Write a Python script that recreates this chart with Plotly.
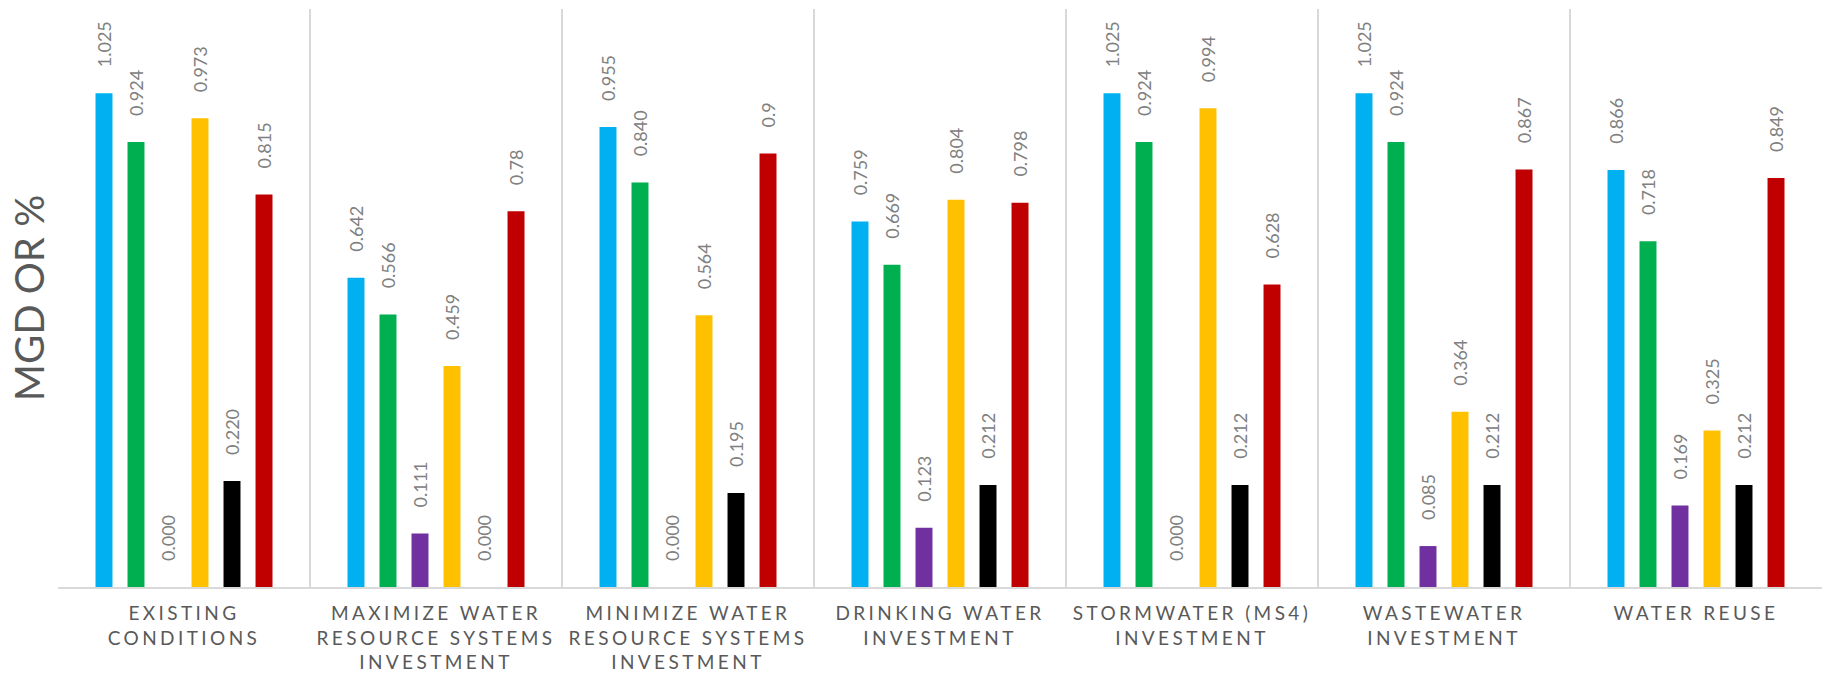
import plotly.graph_objects as go

# Scenario categories along the x axis
categories = [
    "EXISTING<br>CONDITIONS",
    "MAXIMIZE WATER<br>RESOURCE SYSTEMS<br>INVESTMENT",
    "MINIMIZE WATER<br>RESOURCE SYSTEMS<br>INVESTMENT",
    "DRINKING WATER<br>INVESTMENT",
    "STORMWATER (MS4)<br>INVESTMENT",
    "WASTEWATER<br>INVESTMENT",
    "WATER REUSE",
]

# Values per series, kept as the strings printed above each bar
blue_vals = ["1.025", "0.642", "0.955", "0.759", "1.025", "1.025", "0.866"]
green_vals = ["0.924", "0.566", "0.840", "0.669", "0.924", "0.924", "0.718"]
purple_vals = ["0.000", "0.111", "0.000", "0.123", "0.000", "0.085", "0.169"]
yellow_vals = ["0.973", "0.459", "0.564", "0.804", "0.994", "0.364", "0.325"]
black_vals = ["0.220", "0.000", "0.195", "0.212", "0.212", "0.212", "0.212"]
red_vals = ["0.815", "0.78", "0.9", "0.798", "0.628", "0.867", "0.849"]

series = [
    ("Blue", blue_vals, "#00B0F0"),
    ("Green", green_vals, "#00B050"),
    ("Purple", purple_vals, "#7030A0"),
    ("Yellow", yellow_vals, "#FFC000"),
    ("Black", black_vals, "#000000"),
    ("Red", red_vals, "#C00000"),
]

PAD = "\u00a0" * 5  # gap between the bar top and its rotated label

fig = go.Figure()
for name, vals, color in series:
    fig.add_trace(go.Bar(
        name=name,
        x=categories,
        y=[float(v) for v in vals],
        text=[PAD + v for v in vals],
        textposition="outside",
        textangle=-90,
        constraintext="none",
        textfont=dict(family="Lato", size=18, color="#808080"),
        marker=dict(color=color, line=dict(width=0)),
        cliponaxis=False,
    ))

fig.update_layout(
    width=1827,
    height=678,
    barmode="group",
    bargap=0.238,
    bargroupgap=0.47,
    showlegend=False,
    plot_bgcolor="white",
    paper_bgcolor="white",
    margin=dict(l=58, r=5, t=9, b=86),
    font=dict(family="Lato", color="#595959"),
)

fig.update_xaxes(
    showgrid=True,
    gridcolor="#D9D9D9",
    gridwidth=2,
    tickson="boundaries",
    ticks="",
    showline=True,
    linecolor="#D9D9D9",
    linewidth=2,
    tickfont=dict(family="Lato", size=19, color="#595959"),
    ticklabelstandoff=8,
)

fig.update_yaxes(
    range=[0, 1.2],
    showgrid=False,
    zeroline=False,
    showticklabels=False,
    ticks="",
    title=dict(text="MGD OR %", font=dict(family="Lato", size=40, color="#595959"), standoff=0),
)

# Widen the letter spacing of the category labels
post = """
document.querySelectorAll('.xtick text').forEach(function(t){
  t.style.letterSpacing = '3.4px';
});
"""

fig.write_html("out.html", post_script=post)
